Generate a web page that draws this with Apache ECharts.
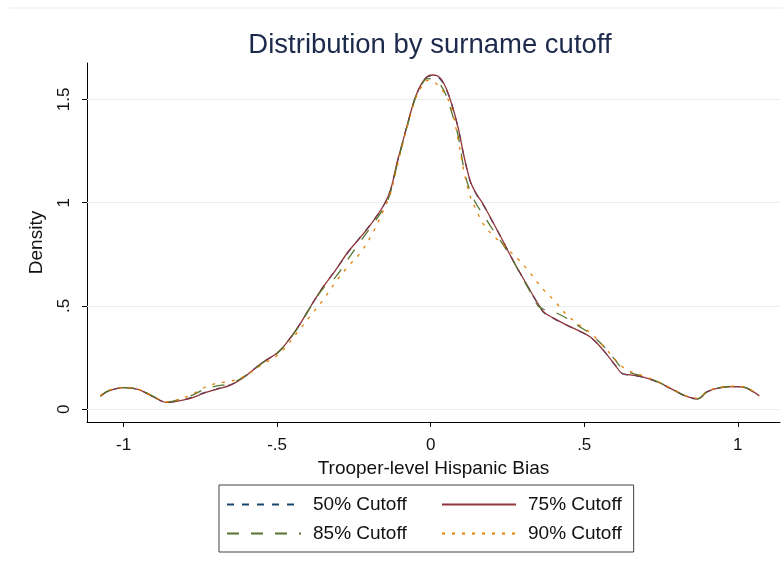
<!DOCTYPE html>
<html>
<head>
<meta charset="utf-8">
<script src="https://cdn.jsdelivr.net/npm/echarts@6/dist/echarts.min.js"></script>
<style>html,body{margin:0;padding:0;background:#fff;}#chart{width:783px;height:571px;}</style>
</head>
<body>
<div id="chart"></div>
<script>
// ---- data ----
const xs = [-1.075,-1.05,-1.0,-0.95,-0.9,-0.86,-0.82,-0.78,-0.74,-0.70,-0.65,-0.60,-0.55,-0.50,-0.47,-0.43,-0.39,-0.35,-0.31,-0.27,-0.23,-0.19,-0.15,-0.13,-0.11,-0.09,-0.07,-0.05,-0.03,-0.01,0.01,0.03,0.05,0.07,0.09,0.11,0.13,0.15,0.17,0.20,0.23,0.26,0.29,0.32,0.35,0.37,0.40,0.44,0.48,0.52,0.56,0.60,0.625,0.65,0.69,0.74,0.79,0.835,0.87,0.90,0.94,1.0,1.03,1.07];
const d50 = [0.063,0.088,0.104,0.094,0.058,0.034,0.042,0.056,0.079,0.097,0.12,0.165,0.224,0.273,0.32,0.402,0.5,0.592,0.673,0.757,0.832,0.906,0.995,1.063,1.188,1.3,1.41,1.508,1.573,1.61,1.614,1.6,1.552,1.468,1.358,1.213,1.098,1.038,0.993,0.912,0.83,0.743,0.662,0.584,0.508,0.466,0.44,0.409,0.381,0.349,0.29,0.215,0.172,0.166,0.156,0.131,0.093,0.06,0.05,0.084,0.104,0.11,0.102,0.062];
const d75 = [0.065,0.088,0.105,0.095,0.058,0.033,0.041,0.054,0.077,0.095,0.118,0.164,0.224,0.272,0.32,0.402,0.5,0.592,0.672,0.76,0.83,0.905,0.995,1.065,1.19,1.3,1.41,1.51,1.575,1.612,1.618,1.605,1.555,1.47,1.36,1.215,1.1,1.04,0.995,0.913,0.83,0.743,0.663,0.585,0.51,0.468,0.441,0.41,0.382,0.35,0.29,0.215,0.172,0.167,0.157,0.132,0.094,0.061,0.051,0.085,0.104,0.11,0.102,0.065];
const d85 = [0.064,0.089,0.105,0.096,0.06,0.035,0.045,0.066,0.095,0.112,0.125,0.166,0.222,0.27,0.318,0.4,0.497,0.585,0.64,0.725,0.81,0.892,0.98,1.055,1.18,1.295,1.405,1.505,1.57,1.6,1.595,1.575,1.52,1.43,1.32,1.15,1.05,0.99,0.945,0.875,0.81,0.74,0.66,0.58,0.5,0.483,0.472,0.443,0.405,0.365,0.31,0.24,0.195,0.178,0.16,0.133,0.095,0.062,0.052,0.086,0.105,0.111,0.103,0.064];
const d90 = [0.066,0.09,0.106,0.096,0.06,0.036,0.048,0.07,0.103,0.125,0.136,0.165,0.215,0.26,0.305,0.38,0.455,0.53,0.615,0.69,0.755,0.85,0.975,1.05,1.17,1.29,1.4,1.5,1.56,1.592,1.585,1.558,1.52,1.445,1.3,1.14,1.025,0.96,0.9,0.845,0.805,0.762,0.718,0.667,0.61,0.575,0.53,0.462,0.412,0.37,0.31,0.243,0.205,0.183,0.163,0.134,0.096,0.063,0.053,0.087,0.106,0.112,0.104,0.066];
const seriesNames = ['50% Cutoff','75% Cutoff','85% Cutoff','90% Cutoff'];
const xTicks = [-1,-0.5,0,0.5,1];
const yTicks = [0,0.5,1,1.5];

const fmt = v => {
  if (v === 0) return '0';
  const s = String(Math.abs(v)).replace(/^0\./,'.');
  return (v < 0 ? '-' : '') + s;
};
const pairs = arr => xs.map((x,i) => [x, arr[i]]);

const font = 'Liberation Sans, Arial, sans-serif';
const styles = [
  {color:'#1a476f', type:[7,8]},
  {color:'#90353b', type:'solid'},
  {color:'#55752f', type:[12,12]},
  {color:'#e37e00', type:[3,7]}
];
const dataSets = [d50,d75,d85,d90];

const series = seriesNames.map((n,i) => ({
  name:n, type:'line', data:pairs(dataSets[i]), smooth:0.35,
  symbol:'none', showSymbol:false, z:3+i,
  lineStyle:{color:styles[i].color, width:1.3, type:styles[i].type},
  itemStyle:{color:styles[i].color}
}));
series[0].markLine = {
  silent:true, symbol:['none','none'], label:{show:false}, z:1,
  lineStyle:{color:'#e6eef0', width:1.2, type:'solid'},
  data: yTicks.map(v => ({yAxis:v}))
};

const chart = echarts.init(document.getElementById('chart'), null, {renderer:'canvas'});
chart.setOption({
  animation:false,
  backgroundColor:'#ffffff',
  title:{
    text:'Distribution by surname cutoff', left:425, top:26, textAlign:'center',
    textStyle:{fontFamily:font, fontSize:27.5, fontWeight:'normal', color:'#1e2a4c'}
  },
  graphic:[{type:'line', shape:{x1:9,y1:8,x2:783,y2:8}, style:{stroke:'#e4ecee', lineWidth:1}, silent:true}],
  grid:{left:87, right:3, top:63, bottom:149, containLabel:false},
  xAxis:{
    type:'value', min:-1.119, max:1.1375,
    name:'Trooper-level Hispanic Bias', nameLocation:'middle', nameGap:33,
    nameTextStyle:{fontFamily:font, fontSize:19, color:'#111'},
    axisLine:{show:true, onZero:false, lineStyle:{color:'#000', width:1}},
    axisTick:{show:true, length:5, customValues:xTicks, lineStyle:{color:'#000'}},
    axisLabel:{customValues:xTicks, formatter:fmt, margin:15, fontFamily:font, fontSize:17, color:'#111'},
    splitLine:{show:false}
  },
  yAxis:{
    type:'value', min:-0.0615, max:1.676,
    name:'Density', nameLocation:'middle', nameGap:41, nameRotate:90,
    nameTextStyle:{fontFamily:font, fontSize:19, color:'#111'},
    axisLine:{show:true, onZero:false, lineStyle:{color:'#000', width:1}},
    axisTick:{show:true, length:5, customValues:yTicks, lineStyle:{color:'#000'}},
    axisLabel:{customValues:yTicks, formatter:fmt, rotate:90, margin:14, fontFamily:font, fontSize:17, color:'#111'},
    splitLine:{show:false}
  },
  legend:{
    orient:'horizontal', left:219, top:485, width:420,
    padding:[10,12,9,7], itemGap:10, itemWidth:74, itemHeight:14,
    borderColor:'#404040', borderWidth:1, backgroundColor:'#fff',
    itemStyle:{opacity:0},
    textStyle:{fontFamily:font, fontSize:19, color:'#111', lineHeight:16, padding:[0,0,0,7]},
    data:[
      {name:seriesNames[0], textStyle:{width:118}},
      seriesNames[1],
      {name:seriesNames[2], textStyle:{width:118}},
      seriesNames[3]
    ]
  },
  series:series
});
</script>
</body>
</html>
